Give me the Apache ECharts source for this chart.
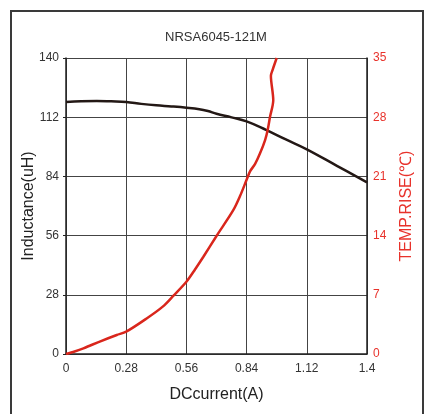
<!DOCTYPE html>
<html><head><meta charset="utf-8">
<script src="https://cdn.jsdelivr.net/npm/echarts@6/dist/echarts.min.js"></script>
<style>html,body{margin:0;padding:0;background:#fff}#c{width:430px;height:414px}</style>
</head><body><div id="c"></div>
<script>
var titleText = 'NRSA6045-121M';
var xTicks = [0, 0.28, 0.56, 0.84, 1.12, 1.4];
var inductanceX = [0, 0.07, 0.143, 0.21, 0.28, 0.35, 0.42, 0.49, 0.56, 0.62, 0.66, 0.70, 0.77, 0.84, 0.93, 1.02, 1.12, 1.26, 1.4];
var inductanceY = [119.2, 119.6, 119.7, 119.5, 119.2, 118.3, 117.6, 117.1, 116.5, 115.8, 114.9, 113.6, 111.9, 110.0, 106.0, 101.6, 96.8, 89.0, 81.2];
var tempX = [0, 0.04, 0.081, 0.16, 0.236, 0.28, 0.375, 0.45, 0.5, 0.56, 0.6, 0.639, 0.70, 0.778, 0.81, 0.84, 0.856, 0.879, 0.902, 0.926, 0.938, 0.949, 0.964, 0.953, 0.961, 0.98];
var tempY = [0, 0.3, 0.67, 1.5, 2.25, 2.64, 4.2, 5.6, 6.9, 8.55, 10.0, 11.5, 13.95, 17.0, 18.7, 20.6, 21.6, 22.45, 23.7, 25.3, 26.5, 28.05, 30.0, 32.9, 33.6, 35];

function pairs(xs, ys){ return xs.map(function(x,i){ return [x, ys[i]]; }); }
var font = 'Arial, "Liberation Sans", sans-serif';
var chart = echarts.init(document.getElementById('c'), null, {renderer:'canvas'});
chart.setOption({
  animation: false,
  backgroundColor: '#fff',
  title: { text: titleText, left: 211, textAlign: 'center', top: 26,
    textStyle: { fontFamily: font, fontSize: 13, fontWeight: 'normal', color: '#333' } },
  graphic: [{ type: 'rect', shape: { x: 11, y: 11, width: 412, height: 430 },
    style: { fill: 'none', stroke: '#3a3a3a', lineWidth: 2 }, silent: true }],
  grid: { left: 66, right: 63, top: 58, bottom: 60 },
  xAxis: { type: 'value', min: 0, max: 1.4, interval: 0.28,
    name: 'DCcurrent(A)', nameLocation: 'middle', nameGap: 33, nameMoveOverlap: false,
    nameTextStyle: { fontFamily: font, fontSize: 16, color: '#222' },
    axisLine: { show: true, lineStyle: { color: '#222', width: 1.5 } },
    axisTick: { show: false },
    axisLabel: { fontFamily: font, fontSize: 12, color: '#333', margin: 9,
      formatter: function(v){ return String(Math.round(v*100)/100); } },
    splitLine: { show: true, lineStyle: { color: '#444', width: 1 } } },
  yAxis: [
    { type: 'value', min: 0, max: 140, interval: 28, position: 'left',
      name: 'Inductance(uH)', nameLocation: 'middle', nameGap: 29, nameRotate: 90, nameMoveOverlap: false,
      nameTextStyle: { fontFamily: font, fontSize: 16, color: '#222' },
      axisLine: { show: true, lineStyle: { color: '#222', width: 1.5 } },
      axisTick: { show: true, length: 3, lineStyle: { color: '#222' } },
      axisLabel: { fontFamily: font, fontSize: 12, color: '#333', margin: 7 },
      splitLine: { show: true, lineStyle: { color: '#444', width: 1 } } },
    { type: 'value', min: 0, max: 35, interval: 7, position: 'right',
      name: 'TEMP.RISE(\u2103)', nameLocation: 'middle', nameGap: 32, nameRotate: 90, nameMoveOverlap: false,
      nameTextStyle: { fontFamily: font, fontSize: 16, color: '#e8322b' },
      axisLine: { show: true, lineStyle: { color: '#222', width: 1.5 } },
      axisTick: { show: false },
      axisLabel: { fontFamily: font, fontSize: 12, color: '#e8322b', margin: 6 },
      splitLine: { show: false } }
  ],
  series: [
    { type: 'line', yAxisIndex: 0, data: pairs(inductanceX, inductanceY), smooth: 0.4,
      symbol: 'none', lineStyle: { color: '#231815', width: 2.5 } },
    { type: 'line', yAxisIndex: 1, data: pairs(tempX, tempY), smooth: 0.3,
      symbol: 'none', lineStyle: { color: '#d9261c', width: 2.5 } }
  ]
});
</script></body></html>
